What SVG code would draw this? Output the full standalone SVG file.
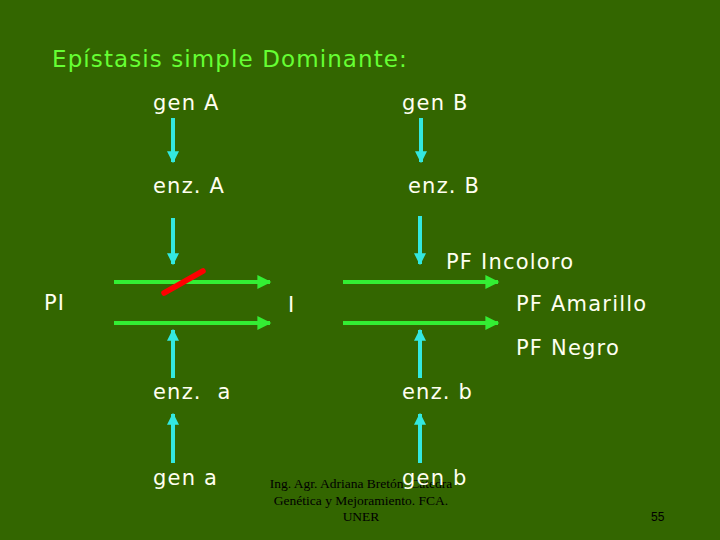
<svg xmlns="http://www.w3.org/2000/svg" width="720" height="540" viewBox="0 0 720 540">
<defs>
<style>
.t{font-family:"DejaVu Sans","Noto Sans",sans-serif;font-size:21px;letter-spacing:1.2px;fill:#fffff0;}
.title{font-family:"DejaVu Sans","Noto Sans",sans-serif;font-size:23px;letter-spacing:1.1px;fill:#66ff33;}
.foot{font-family:"Liberation Serif","Times New Roman",serif;font-size:13.5px;fill:#000;text-anchor:middle;}
.c{stroke:#33e8e0;stroke-width:4;fill:none;}
.g{stroke:#33ee33;stroke-width:4;fill:none;}
</style>
<marker id="hc" viewBox="0 0 10 10" refX="9" refY="5" markerWidth="3" markerHeight="3" orient="auto" markerUnits="strokeWidth">
<path d="M0,0 L10,5 L0,10 Z" fill="#33e8e0"/>
</marker>
<marker id="hg" viewBox="0 0 10 10" refX="9" refY="5" markerWidth="4" markerHeight="3.5" orient="auto" markerUnits="strokeWidth">
<path d="M0,0 L10,5 L0,10 Z" fill="#33ee33"/>
</marker>
</defs>
<rect width="720" height="540" fill="#336600"/>
<text class="title" x="52" y="67">Epístasis simple Dominante:</text>
<g id="connectors">
<line class="c" x1="173" y1="118" x2="173" y2="162" marker-end="url(#hc)"/>
<line class="c" x1="421" y1="118" x2="421" y2="162" marker-end="url(#hc)"/>
<line class="c" x1="173" y1="218" x2="173" y2="264" marker-end="url(#hc)"/>
<line class="c" x1="420" y1="216" x2="420" y2="264" marker-end="url(#hc)"/>
<line class="c" x1="173" y1="378" x2="173" y2="330" marker-end="url(#hc)"/>
<line class="c" x1="420" y1="378" x2="420" y2="330" marker-end="url(#hc)"/>
<line class="c" x1="173" y1="463" x2="173" y2="414" marker-end="url(#hc)"/>
<line class="c" x1="420" y1="463" x2="420" y2="414" marker-end="url(#hc)"/>
<line class="g" x1="114" y1="282" x2="270" y2="282" marker-end="url(#hg)"/>
<line class="g" x1="114" y1="323" x2="270" y2="323" marker-end="url(#hg)"/>
<line class="g" x1="343" y1="282" x2="498" y2="282" marker-end="url(#hg)"/>
<line class="g" x1="343" y1="323" x2="498" y2="323" marker-end="url(#hg)"/>
<line x1="164" y1="293" x2="203" y2="271" stroke="#ff0000" stroke-width="5.5" stroke-linecap="round"/>
</g>
<g id="genA"><text class="t" x="153" y="110">gen A</text></g>
<g id="genB"><text class="t" x="402" y="110">gen B</text></g>
<g id="enzA"><text class="t" x="153" y="193">enz. A</text></g>
<g id="enzB"><text class="t" x="408" y="193">enz. B</text></g>
<g id="PI"><text class="t" x="44" y="310">PI</text></g>
<g id="I"><text class="t" x="288" y="312">I</text></g>
<g id="PFIncoloro"><text class="t" x="446" y="269">PF Incoloro</text></g>
<g id="PFAmarillo"><text class="t" x="516" y="311">PF Amarillo</text></g>
<g id="PFNegro"><text class="t" x="516" y="355">PF Negro</text></g>
<g id="enza"><text class="t" x="153" y="399" xml:space="preserve">enz.  a</text></g>
<g id="enzb"><text class="t" x="402" y="399">enz. b</text></g>
<g id="gena"><text class="t" x="153" y="485">gen a</text></g>
<g id="footer">
<text class="foot" x="361" y="488">Ing. Agr. Adriana Bretón. Cátedra</text>
<text class="foot" x="361" y="505">Genética y Mejoramiento. FCA.</text>
<text class="foot" x="361" y="521">UNER</text>
</g>
<g id="genb"><text class="t" x="402" y="485">gen b</text></g>
<text x="651" y="521" font-family="Liberation Sans, Arial, sans-serif" font-size="12" fill="#000">55</text>
</svg>
